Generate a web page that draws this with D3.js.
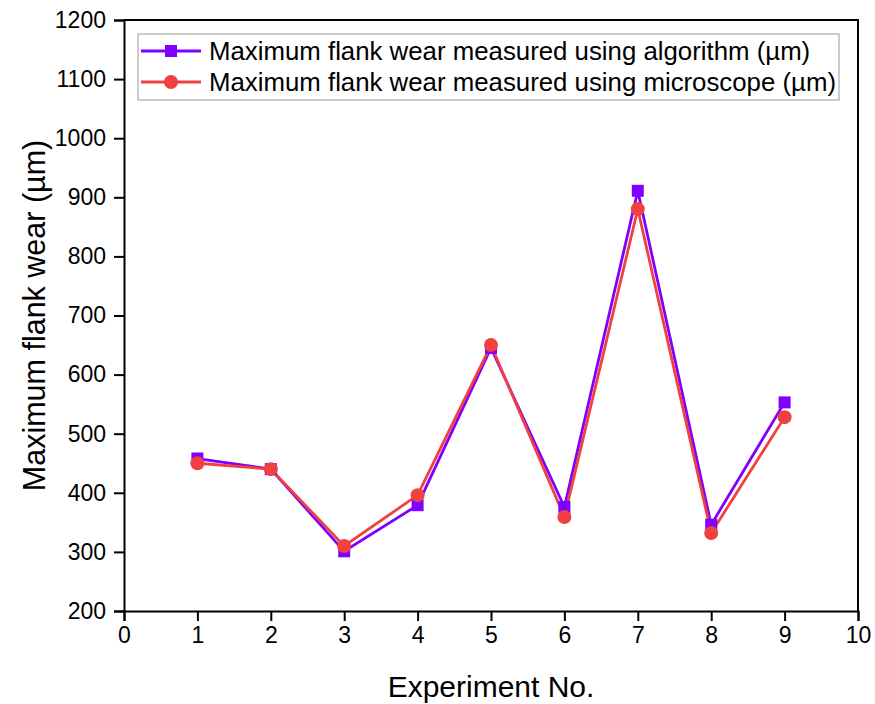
<!DOCTYPE html>
<html>
<head>
    <title>Maximum flank wear</title>
    <script src="https://d3js.org/d3.v7.min.js"></script>
    <style>
        body {margin: 0; background: #ffffff;
              font-family: "Liberation Sans", Arial, sans-serif;}
    </style>
</head>
<body>
<script>
    // chart data
    const experiments = [1, 2, 3, 4, 5, 6, 7, 8, 9];
    const algorithmWear = [458, 440, 301, 379, 645, 376, 911, 346, 553];
    const microscopeWear = [450, 440, 310, 396, 650, 359, 880, 332, 528];
    const seriesNames = ["Maximum flank wear measured using algorithm (\u00b5m)",
                         "Maximum flank wear measured using microscope (\u00b5m)"];
    const xTicks = [0, 1, 2, 3, 4, 5, 6, 7, 8, 9, 10];
    const yTicks = [200, 300, 400, 500, 600, 700, 800, 900, 1000, 1100, 1200];

    const width = 875, height = 704;
    const margin = {top: 20, right: 17, bottom: 93, left: 124};

    const svg = d3.select("body").append("svg")
        .attr("width", width)
        .attr("height", height);

    const x = d3.scaleLinear().domain([0, 10]).range([margin.left, width - margin.right]);
    const y = d3.scaleLinear().domain([200, 1200]).range([height - margin.bottom, margin.top]);

    // frame top and right
    svg.append("path")
        .attr("d", "M" + x(0) + "," + y(1200) + "H" + x(10) + "V" + y(200))
        .attr("fill", "none").attr("stroke", "black").attr("stroke-width", 2);

    // x axis with minor ticks
    const xAxis = svg.append("g").attr("transform", "translate(0," + y(200) + ")");
    xAxis.call(d3.axisBottom(x).tickValues(d3.range(0.5, 10, 1)).tickSize(5).tickFormat(""));
    xAxis.call(d3.axisBottom(x).tickValues(xTicks).tickSize(10).tickPadding(6).tickFormat(d3.format("d")));

    // y axis with minor ticks
    const yAxis = svg.append("g").attr("transform", "translate(" + x(0) + ",0)");
    yAxis.call(d3.axisLeft(y).tickValues(d3.range(250, 1200, 100)).tickSize(5).tickFormat(""));
    yAxis.call(d3.axisLeft(y).tickValues(yTicks).tickSize(10).tickPadding(8).tickFormat(d3.format("d")));

    svg.selectAll(".domain").attr("stroke-width", 2);
    svg.selectAll(".tick line").attr("stroke-width", 2);
    svg.selectAll(".tick text")
        .style("font-family", "'Liberation Sans', Arial, sans-serif")
        .style("font-size", "23px").attr("fill", "black");

    // axis titles
    svg.append("text")
        .attr("x", (x(0) + x(10)) / 2).attr("y", 697)
        .attr("text-anchor", "middle")
        .style("font-size", "30px")
        .text("Experiment No.");

    svg.append("text")
        .attr("transform", "translate(45," + ((y(200) + y(1200)) / 2) + ") rotate(-90)")
        .attr("text-anchor", "middle")
        .style("font-size", "30.5px")
        .text("Maximum flank wear (\u00b5m)");

    const colors = ["#7f00ff", "#f04040"];
    const allSeries = [algorithmWear, microscopeWear];

    const line = d3.line()
        .x(function(d, i) { return x(experiments[i]); })
        .y(function(d) { return y(d); });

    allSeries.forEach(function(values, s) {
        svg.append("path")
            .datum(values)
            .attr("d", line)
            .attr("fill", "none")
            .attr("stroke", colors[s])
            .attr("stroke-width", 2.8);
    });

    // markers: squares for algorithm, circles for microscope
    svg.selectAll("rect.alg")
        .data(algorithmWear)
        .enter().append("rect")
        .attr("class", "alg")
        .attr("x", function(d, i) { return x(experiments[i]) - 6; })
        .attr("y", function(d) { return y(d) - 6; })
        .attr("width", 12).attr("height", 12)
        .attr("fill", colors[0]);

    svg.selectAll("circle.mic")
        .data(microscopeWear)
        .enter().append("circle")
        .attr("class", "mic")
        .attr("cx", function(d, i) { return x(experiments[i]); })
        .attr("cy", function(d) { return y(d); })
        .attr("r", 7)
        .attr("fill", colors[1]);

    // legend
    const legend = svg.append("g");
    const legendBox = legend.append("rect")
        .attr("x", 138).attr("y", 34)
        .attr("height", 66)
        .attr("fill", "white")
        .attr("stroke", "#999999").attr("stroke-width", 1);

    let maxLen = 0;
    seriesNames.forEach(function(name, s) {
        const cy = 51 + s * 31;
        legend.append("line")
            .attr("x1", 141).attr("x2", 201)
            .attr("y1", cy).attr("y2", cy)
            .attr("stroke", colors[s]).attr("stroke-width", 2.8);
        if (s === 0) {
            legend.append("rect").attr("x", 165).attr("y", cy - 6)
                .attr("width", 12).attr("height", 12).attr("fill", colors[s]);
        } else {
            legend.append("circle").attr("cx", 171).attr("cy", cy)
                .attr("r", 7).attr("fill", colors[s]);
        }
        const t = legend.append("text")
            .attr("x", 209).attr("y", cy + 9)
            .style("font-size", "25.8px")
            .text(name);
        maxLen = Math.max(maxLen, t.node().getComputedTextLength());
    });
    legendBox.attr("width", 209 + maxLen + 3 - 138);
</script>
</body>
</html>
